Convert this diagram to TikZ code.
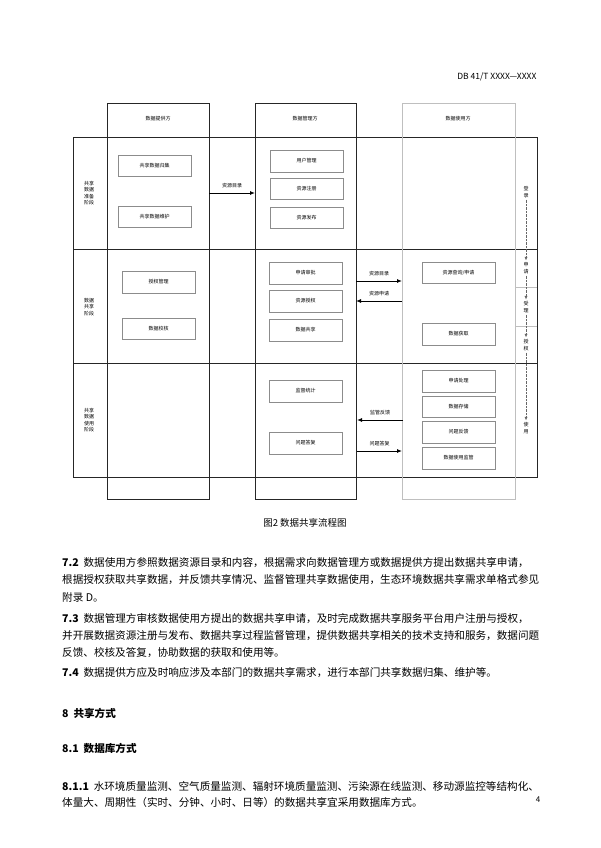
\documentclass[tikz,border=0pt]{standalone}
\usepackage{fontspec}
\setmainfont{Noto Sans CJK SC}
\usetikzlibrary{arrows.meta}
\tikzset{
  lane/.style={draw=black!85, line width=0.8pt},
  ulane/.style={draw=black!25, line width=0.8pt},
  item/.style={draw=black!45, line width=0.5pt, minimum width=73pt, minimum height=21.5pt, font=\fontsize{5}{6}\selectfont, inner sep=0pt},
  tag/.style={font=\fontsize{5}{6}\selectfont, inner sep=1pt},
  stage/.style={font=\fontsize{5}{6.3}\selectfont, align=center, inner sep=0pt},
  flow/.style={-{Latex[length=5pt,width=4pt]}, line width=0.9pt},
  body/.style={anchor=west, font=\fontsize{10.6}{12}\selectfont, inner sep=0pt}
}
\begin{document}
\begin{tikzpicture}[x=1pt,y=-1pt]
   \useasboundingbox[fill=white] (0,0) rectangle (600,848);
   % header
   \node[anchor=east, font=\fontsize{8.5}{10}\selectfont] (hdr) at (540,77) {DB 41/T XXXX—XXXX};

   % lanes
   \draw[lane] (73,137) rectangle (537,477);
   \draw[lane] (73,249) -- (537,249);
   \draw[lane] (73,363) -- (537,363);
   \draw[lane] (107,103) rectangle (209,499);
   \draw[lane] (255,103) rectangle (356,499);
   \draw[ulane] (402,103) rectangle (515,499);
   \draw[ulane] (515,287) -- (537,287);
   \draw[ulane] (515,326) -- (537,326);
   \draw[lane] (107,137) -- (209,137) (255,137) -- (356,137);

   \node[tag] (hprov) at (158,119) {数据提供方};
   \node[tag] (hmgr) at (305,119) {数据管理方};
   \node[tag] (huser) at (458,119) {数据使用方};

   % stages
   \node[stage] (s1) at (89,193) {共享\\数据\\准备\\阶段};
   \node[stage] (s2) at (89,307) {数据\\共享\\阶段};
   \node[stage] (s3) at (89,420) {共享\\数据\\使用\\阶段};

   % provider
   \node[item] (gj) at (154.5,165.5) {共享数据归集};
   \node[item] (wh) at (154.5,216.5) {共享数据维护};
   \node[item] (sqgl) at (158.5,282) {授权管理};
   \node[item] (jh) at (158.5,328.5) {数据校核};

   % manager
   \node[item] (yh) at (306.5,161) {用户管理};
   \node[item] (zc) at (306.5,188.5) {资源注册};
   \node[item] (fb) at (306.5,217.5) {资源发布};
   \node[item] (sp) at (305.5,273) {申请审批};
   \node[item] (sq) at (305.5,301) {资源授权};
   \node[item] (gx) at (305.5,330) {数据共享};
   \node[item] (jd) at (305.5,391) {监督统计};
   \node[item] (dfm) at (305.5,443) {问题答复};

   % user
   \node[item] (cx) at (458.5,272.5) {资源查询/申请};
   \node[item] (hq) at (458.5,334) {数据获取};
   \node[item] (cl) at (458.5,381) {申请处理};
   \node[item] (cc) at (458.5,406.5) {数据存储};
   \node[item] (fk) at (458.5,432) {问题反馈};
   \node[item] (jg) at (458.5,458) {数据使用监管};

   % flows
   \coordinate (a1) at (209,193);  \coordinate (b1) at (255,193);
   \draw[flow] (a1) -- node[tag, above=4pt] {资源目录} (b1);
   \coordinate (a2) at (356,281);  \coordinate (b2) at (402,281);
   \draw[flow] (a2) -- node[tag, above=4pt] {资源目录} (b2);
   \coordinate (a3) at (402,301);  \coordinate (b3) at (356,301);
   \draw[flow] (a3) -- node[tag, above=4pt] {资源申请} (b3);
   \coordinate (a4) at (403,420);  \coordinate (b4) at (357,420);
   \draw[flow] (a4) -- node[tag, above=4pt] {监管反馈} (b4);
   \coordinate (a5) at (357,451);  \coordinate (b5) at (402,451);
   \draw[flow] (a5) -- node[tag, above=4pt] {问题答复} (b5);

   % steps
   \node[stage] (dl) at (526,192) {登\\录};
   \node[stage] (sqs) at (526,268) {申\\请};
   \node[stage] (sl) at (526,307) {受\\理};
   \node[stage] (sqq) at (526,345) {授\\权};
   \node[stage] (sy) at (526,428) {使\\用};
   \foreach \u/\v in {dl/sqs,sqs/sl,sl/sqq,sqq/sy}
     \draw[densely dotted, black!60, -{Latex[length=3.5pt,width=3pt]}, line width=0.4pt, shorten <=2pt, shorten >=2pt] (\u) -- (\v);

   % caption and text
   \node[font=\fontsize{9.5}{11}\selectfont] (cap) at (305,523) {图2\ 数据共享流程图};
   \node[body] (p1) at (62,563) {\textbf{7.2}\ \ 数据使用方参照数据资源目录和内容，根据需求向数据管理方或数据提供方提出数据共享申请，};
   \node[body] (p2) at (62,580) {根据授权获取共享数据，并反馈共享情况、监督管理共享数据使用，生态环境数据共享需求单格式参见};
   \node[body] (p3) at (62,597) {附录 D。};
   \node[body] (p4) at (62,619) {\textbf{7.3}\ \ 数据管理方审核数据使用方提出的数据共享申请，及时完成数据共享服务平台用户注册与授权，};
   \node[body] (p5) at (62,636) {并开展数据资源注册与发布、数据共享过程监督管理，提供数据共享相关的技术支持和服务，数据问题};
   \node[body] (p6) at (62,653) {反馈、校核及答复，协助数据的获取和使用等。};
   \node[body] (p7) at (62,673) {\textbf{7.4}\ \ 数据提供方应及时响应涉及本部门的数据共享需求，进行本部门共享数据归集、维护等。};
   \node[body, font=\fontsize{10.6}{12}\selectfont\bfseries] (h8) at (62,713) {8\ \ 共享方式};
   \node[body, font=\fontsize{10.6}{12}\selectfont\bfseries] (h81) at (62,748) {8.1\ \ 数据库方式};
   \node[body] (p8) at (62,786) {\textbf{8.1.1}\ \ 水环境质量监测、空气质量监测、辐射环境质量监测、污染源在线监测、移动源监控等结构化、};
   \node[body] (p9) at (62,802) {体量大、周期性（实时、分钟、小时、日等）的数据共享宜采用数据库方式。};
   \node[font=\fontsize{8}{10}\selectfont] (pg) at (538,800) {4};
\end{tikzpicture}
\end{document}
